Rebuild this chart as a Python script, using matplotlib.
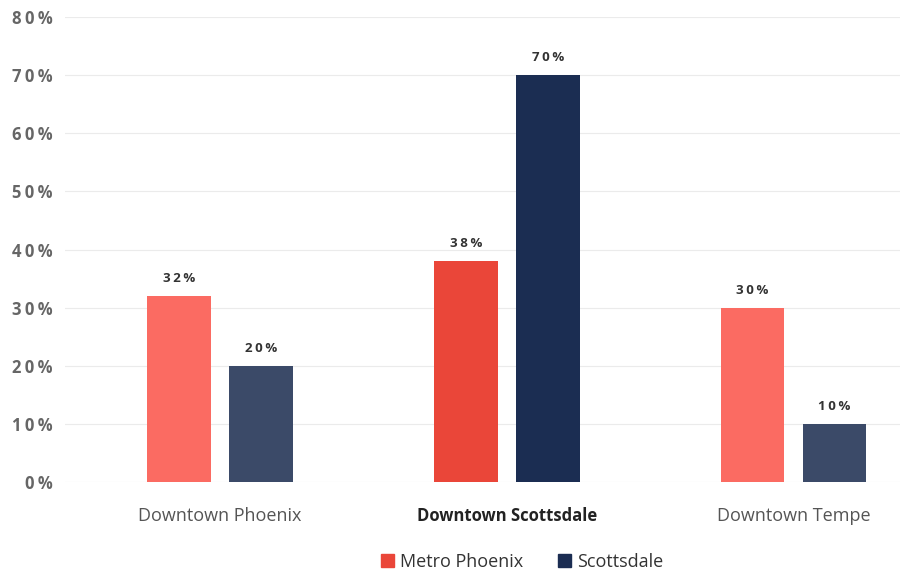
import numpy as np
import matplotlib.pyplot as plt
from matplotlib.patches import Patch

categories = ["Downtown Phoenix", "Downtown Scottsdale", "Downtown Tempe"]
metro_phoenix = [32, 38, 30]
scottsdale = [20, 70, 10]
y_ticks = [0, 10, 20, 30, 40, 50, 60, 70, 80]

metro_colors = ["#fb6b62", "#ea4639", "#fb6b62"]
scott_colors = ["#3b4a68", "#1b2d52", "#3b4a68"]

SP = "\u2009"


def spaced(s):
    return SP.join(s)


plt.rcParams["font.family"] = ["Open Sans", "DejaVu Sans"]

fig = plt.figure(figsize=(9.05, 5.75), dpi=100)
ax = fig.add_axes([0.072, 0.1617, 0.922, 0.8087])

x = np.arange(len(categories))
w = 0.223
off = 0.143

ax.bar(x - off, metro_phoenix, w, color=metro_colors, zorder=2)
ax.bar(x + off, scottsdale, w, color=scott_colors, zorder=2)

for i in range(len(categories)):
    ax.text(x[i] - off, metro_phoenix[i] + 1.9, spaced(f"{metro_phoenix[i]}%"),
            ha="center", va="bottom", fontsize=9.5, fontweight="bold", color="#333333")
    ax.text(x[i] + off, scottsdale[i] + 1.9, spaced(f"{scottsdale[i]}%"),
            ha="center", va="bottom", fontsize=9.5, fontweight="bold", color="#333333")

ax.set_xlim(-0.54, 2.37)
ax.set_ylim(0, 80)
ax.set_yticks(y_ticks)
ax.set_yticklabels([spaced(f"{t}%") for t in y_ticks], fontsize=12,
                   fontweight="bold", color="#666666")
ax.tick_params(axis="y", length=0, pad=9)

ax.set_xticks(x)
ax.set_xticklabels(categories, fontsize=13, color="#555555")
ax.tick_params(axis="x", length=0, pad=18)
lbls = ax.get_xticklabels()
lbls[1].set_fontweight("bold")
lbls[1].set_color("#222222")
lbls[1].set_fontsize(12)

ax.grid(axis="y", color="#ebebeb", linewidth=0.8, zorder=0)
for s in ax.spines.values():
    s.set_visible(False)

handles = [Patch(color="#ea4639", label="Metro Phoenix"),
           Patch(color="#1b2d52", label="Scottsdale")]
fig.legend(handles=handles, loc="center", bbox_to_anchor=(0.577, 0.023),
           ncol=2, frameon=False, fontsize=13, handlelength=0.72,
           handleheight=0.72, handletextpad=0.33, columnspacing=1.9,
           labelcolor="#333333")

fig.savefig("out.png", dpi=100)
